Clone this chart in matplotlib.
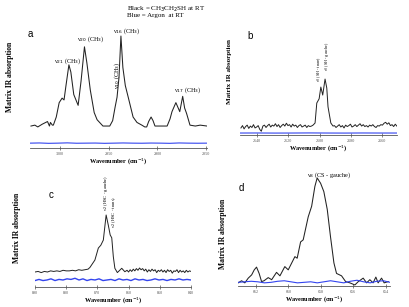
import numpy as np
import matplotlib.pyplot as plt

plt.rcParams['font.family'] = ['Liberation Serif', 'DejaVu Serif']

# ---- panel a : CH stretching region ----
a_wn = [3030, 3026, 3023, 3018.5, 3013, 3011, 3010, 3008, 3007, 3004, 3001, 2998, 2996,
        2994, 2991, 2989, 2986, 2981.5, 2978.5, 2975, 2972.5, 2969, 2965, 2962, 2956,
        2949, 2946, 2943.5, 2941.5, 2939.5, 2937.5, 2935.5, 2933, 2930, 2925, 2921, 2916,
        2913, 2911, 2909, 2906.5, 2904.5, 2902.5, 2897, 2890, 2887, 2885, 2881, 2877,
        2874, 2872, 2870, 2866.5, 2861, 2856, 2849]
a_abs = [0.0, 0.01, -0.01, 0.02, 0.05, 0.0, 0.04, 0.01, 0.01, 0.1, 0.26, 0.31, 0.29,
         0.45, 0.68, 0.6, 0.35, 0.23, 0.5, 0.88, 0.7, 0.4, 0.15, 0.07, 0.0,
         0.0, 0.06, 0.21, 0.32, 0.54, 1.0, 0.65, 0.45, 0.32, 0.1, 0.04, 0.01,
         -0.01, -0.01, 0.05, 0.1, 0.06, 0.0, 0.0, 0.0, 0.08, 0.16, 0.26, 0.16,
         0.33, 0.2, 0.14, 0.01, 0.0, 0.01, 0.0]
a_blue = [-0.19, -0.188, -0.192, -0.19, -0.187, -0.191, -0.19, -0.189, -0.192, -0.19,
          -0.188, -0.19, -0.191, -0.189, -0.19, -0.192, -0.188, -0.19, -0.191, -0.19]

# ---- panel b : SH stretching region ----
b_left = [-0.02, 0.03, -0.04, 0.01, 0.04, -0.03, 0.02, -0.01, 0.05, -0.02, 0.0, 0.03,
          -0.05, -0.09, 0.02, 0.04, -0.01, 0.03, 0.06, 0.0, 0.04, 0.02, 0.07, 0.01, 0.05,
          -0.01, 0.03, 0.06, 0.02, 0.08, 0.03, 0.05, 0.0, 0.06, 0.02, 0.04, -0.01, 0.03,
          0.05, 0.0, 0.02, 0.04, -0.01, 0.03, 0.01, 0.02, 0.04]
b_peak_wn = [2602.9, 2601.8, 2600.3, 2599.2, 2598.0, 2596.5, 2595.4, 2594.6, 2592.8, 2591.4]
b_peak_abs = [0.085, 0.51, 0.6, 0.85, 0.68, 1.02, 0.83, 0.43, 0.085, 0.02]
b_right = [0.03, -0.01, 0.02, 0.05, 0.0, 0.03, -0.02, 0.04, 0.01, 0.03, 0.06, 0.0, 0.02,
           0.05, 0.01, 0.04, 0.07, 0.02, 0.05, 0.01, 0.03, 0.0, 0.04, 0.02, 0.05, 0.01,
           -0.01, 0.03, 0.02, 0.05, 0.04, 0.08, 0.10, 0.06, 0.09, 0.03, 0.05, 0.01, 0.06, 0.02]
b_blue = [-0.128, -0.127, -0.129, -0.128, -0.126, -0.128, -0.129, -0.127, -0.128, -0.128]

# ---- panel c : HSC bending region ----
c_left = [0.0, 0.01, -0.01, 0.01, 0.0, 0.02, 0.01, 0.02, 0.01, 0.03, 0.02, 0.02, 0.03,
          0.02, 0.04, 0.03, 0.04, 0.05]
c_peak_wn = [872.4, 870.8, 869.7, 868.9, 868.1, 867.2, 866.5, 865.9, 865.4, 864.9, 864.4,
             863.6, 862.2, 861.2]
c_peak_abs = [0.08, 0.21, 0.42, 0.47, 0.56, 1.0, 0.82, 0.65, 0.6, 0.27, 0.065, -0.01,
              0.065, 0.005]
c_right = [0.03, 0.0, 0.04, 0.01, 0.05, 0.02, 0.06, 0.03, 0.07, 0.04, 0.06, 0.02, 0.05,
           0.0, 0.04, 0.01, 0.05, 0.02, 0.04, -0.01, 0.03, 0.01, 0.04, 0.0, 0.03, -0.01,
           0.04, 0.01, 0.03, -0.02, 0.02, 0.01, 0.04, -0.01, 0.03, 0.0, 0.02, -0.01, 0.03,
           0.0, 0.02, 0.01]
c_blue = [-0.15, -0.13, -0.15, -0.14, -0.12, -0.15, -0.13, -0.14, -0.12, -0.13, -0.11,
          -0.14, -0.12, -0.15, -0.13, -0.14, -0.12, -0.15, -0.14, -0.13, -0.15, -0.12,
          -0.14, -0.13, -0.15, -0.12, -0.14, -0.13, -0.15, -0.14, -0.12, -0.14, -0.13,
          -0.15, -0.13, -0.14, -0.12, -0.14, -0.13, -0.14]

# ---- panel d : CS stretching region ----
d_wn = [663.09, 662.88, 662.68, 662.47, 662.26, 662.1, 661.96, 661.8, 661.65, 661.5,
        661.24, 661.03, 660.73, 660.52, 660.22, 660.01, 659.6, 659.46, 659.25, 659.09,
        658.78, 658.57, 658.37, 658.23, 658.02, 657.82, 657.61, 657.41, 657.2, 657.04,
        656.73, 656.48, 656.22, 655.91, 655.7, 655.4, 655.19, 654.99, 654.79, 654.62,
        654.48, 654.27, 654.11, 653.86]
d_abs = [0.0, 0.02, 0.0, 0.045, 0.076, 0.124, 0.15, 0.09, 0.012, 0.02,
         0.05, 0.03, 0.1, 0.067, 0.155, 0.124, 0.25, 0.235, 0.39, 0.41,
         0.63, 0.73, 0.92, 1.0, 0.95, 0.87, 0.7, 0.44, 0.19, 0.09,
         0.067, 0.012, 0.0, -0.02, 0.012, 0.045, 0.0, 0.03, 0.0, 0.055,
         0.0, 0.045, 0.0, 0.012]
d_blue = [0.005, 0.01, 0.015, 0.01, 0.0, 0.005, 0.015, 0.02, 0.01, 0.0, 0.005, 0.01,
          0.0, 0.01, 0.02, 0.01, 0.0, 0.015, 0.025, 0.01, 0.0, 0.015, 0.02, 0.005]

W, H = 409, 307
fig = plt.figure(figsize=(W / 100, H / 100), dpi=100)


def make_ax(left, right, bottom, top):
    ax = fig.add_axes([left / W, 1 - bottom / H, (right - left) / W, (bottom - top) / H])
    for s in ['left', 'top', 'right']:
        ax.spines[s].set_visible(False)
    ax.spines['bottom'].set_linewidth(0.6)
    ax.spines['bottom'].set_color('#555555')
    ax.set_yticks([])
    ax.tick_params(axis='x', labelsize=3, length=2.5, width=0.5, pad=1.5,
                   direction='inout', colors='#555555')
    ax.set_xlabel('Wavenumber (cm$^{-1}$)', fontsize=4.5, fontweight='bold', labelpad=0.5)
    ax.set_ylabel('Matrix IR absorption', fontsize=5.5, fontweight='bold')
    return ax


kb = dict(color='#222222', lw=0.75)
kbl = dict(color='#3344ee', lw=0.8)

# a
ax = make_ax(30, 207, 148, 30)
ax.plot(a_wn, a_abs, **kb)
ax.plot(np.linspace(3031, 2849, len(a_blue)), a_blue, **kbl)
ax.set_xlim(3031, 2849)
ax.set_ylim(-0.244, 1.067)
ax.set_xticks([3000, 2950, 2900, 2850])
ax.yaxis.set_label_coords(-0.09, 0.6)
fs = 4.5
ax.text(2992, 0.72, 'ν$_{21}$ (CH$_3$)', fontsize=fs, ha='center', va='center')
ax.text(2968, 0.97, 'ν$_{20}$ (CH$_3$)', fontsize=fs, ha='center', va='center')
ax.text(2931, 1.055, 'ν$_{16}$ (CH$_3$)', fontsize=fs, ha='center', va='center')
ax.text(2941.5, 0.56, 'ν$_{10}$ (CH$_3$)', fontsize=fs, ha='center', va='center', rotation=90)
ax.text(2868.5, 0.4, 'ν$_{17}$ (CH$_3$)', fontsize=fs, ha='center', va='center')

# b
ax = make_ax(240, 397, 135, 30)
b_wn = np.concatenate([np.linspace(2650.4, 2604.2, len(b_left)), b_peak_wn,
                       np.linspace(2590.5, 2550.5, len(b_right))])
ax.plot(b_wn, np.concatenate([b_left, b_peak_abs, b_right]), color='#222222', lw=0.7)
ax.plot(np.linspace(2651, 2550.4, len(b_blue)), b_blue, **kbl)
ax.set_xlim(2651, 2550.4)
ax.set_ylim(-0.17, 2.064)
ax.set_xticks([2640, 2620, 2600, 2580, 2560])
ax.set_ylabel('Matrix IR absorption', fontsize=5, fontweight='bold')
ax.yaxis.set_label_coords(-0.05, 0.6)
ax.text(2600.2, 1.23, 'ν$_3$ (SH - trans)', fontsize=3, ha='center', va='center', rotation=90)
ax.text(2595.5, 1.51, 'ν$_3$ (SH - gauche)', fontsize=3, ha='center', va='center', rotation=90)

# c
ax = make_ax(35, 191, 287, 180)
c_wn = np.concatenate([np.linspace(890, 873, len(c_left)), c_peak_wn,
                       np.linspace(860.5, 840, len(c_right))])
ax.plot(c_wn, np.concatenate([c_left, c_peak_abs, c_right]), color='#222222', lw=0.7)
ax.plot(np.linspace(890, 840, len(c_blue)), c_blue, color='#3344ee', lw=1.0)
ax.set_xlim(890, 840)
ax.set_ylim(-0.263, 1.614)
ax.set_xticks([890, 880, 870, 860, 850, 840])
ax.yaxis.set_label_coords(-0.09, 0.55)
ax.text(867.2, 1.39, 'ν$_2$ (HSC - gauche)', fontsize=3.3, ha='center', va='center', rotation=90)
ax.text(864.6, 1.05, 'ν$_2$ (HSC - trans)', fontsize=3.3, ha='center', va='center', rotation=90)

# d
ax = make_ax(238, 390, 286, 170)
ax.plot(d_wn, d_abs, **kb)
ax.plot(np.linspace(663.1, 653.75, len(d_blue)), d_blue, **kbl)
ax.set_xlim(663.1, 653.75)
ax.set_ylim(-0.03, 1.076)
ax.set_xticks([662, 660, 658, 656, 654])
ax.yaxis.set_label_coords(-0.07, 0.45)
ax.text(657.5, 1.03, 'ν$_8$ (CS - gauche)', fontsize=4.5, ha='center', va='center')

# panel letters and legend note
for lab, x, y in [('a', 30, 34), ('b', 250, 36), ('c', 51, 195), ('d', 241, 188)]:
    fig.text(x / W, 1 - y / H, lab, fontsize=7, family='Liberation Sans',
             ha='center', va='center')
fig.text(127 / W, 1 - 9 / H, 'Black = CH$_3$CH$_2$SH at RT', fontsize=5, va='center')
fig.text(127 / W, 1 - 16 / H, 'Blue = Argon  at RT', fontsize=5, va='center')

plt.savefig('out.png', dpi=100)
